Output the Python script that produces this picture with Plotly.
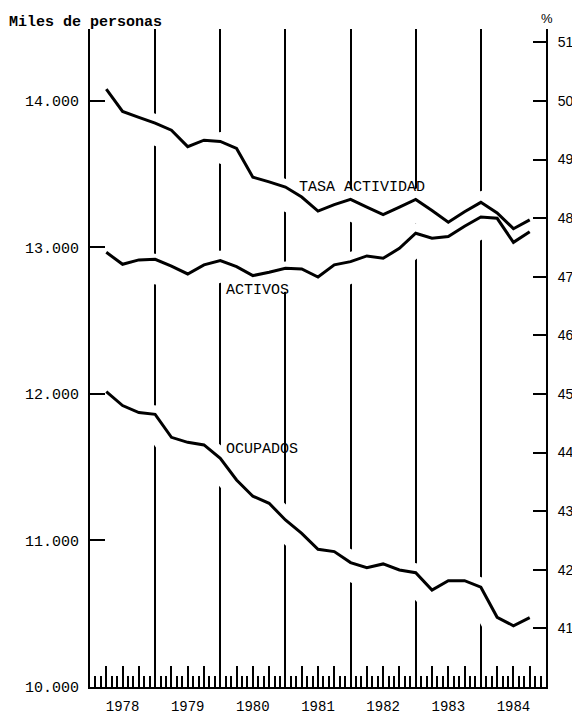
import plotly.graph_objects as go

# ---------------- data ----------------
# quarterly observations, placed at the end of each quarter (1978-I ... 1984-III)
quarters = [1978 + 0.25 * (i + 1) for i in range(27)]

tasa_actividad = [50.20, 49.82, 49.72, 49.62, 49.50, 49.22, 49.33, 49.31, 49.19,
                  48.70, 48.62, 48.53, 48.36, 48.12, 48.23, 48.32, 48.19, 48.06,
                  48.19, 48.32, 48.13, 47.93, 48.11, 48.27, 48.09, 47.82, 47.97]

activos = [12967, 12885, 12915, 12919, 12872, 12819, 12881, 12910, 12869,
           12808, 12831, 12858, 12853, 12798, 12881, 12903, 12942, 12926,
           12994, 13097, 13063, 13074, 13145, 13208, 13199, 13035, 13108]

ocupados = [12016, 11921, 11873, 11861, 11704, 11670, 11652, 11561, 11413,
            11302, 11254, 11140, 11049, 10940, 10924, 10849, 10814, 10840,
            10799, 10780, 10662, 10726, 10726, 10681, 10476, 10418, 10473]

years = [1978, 1979, 1980, 1981, 1982, 1983, 1984]
year_labels = [str(y) for y in years]
left_ticks = [10000, 11000, 12000, 13000, 14000]
left_labels = ["10.000", "11.000", "12.000", "13.000", "14.000"]
right_ticks = [41, 42, 43, 44, 45, 46, 47, 48, 49, 50, 51]

# ---------------- scales ----------------
X_RANGE = [1978, 1985]
LEFT_RANGE = [10000, 14491]
# right axis (%) is linked to the left one: 1000 persons = 2.5 points, 10.000 <-> 40 %
def left_to_pct(v):
    return 40 + (v - 10000) / 400.0
def pct_to_left(p):
    return 10000 + (p - 40) * 400.0
RIGHT_RANGE = [left_to_pct(LEFT_RANGE[0]), left_to_pct(LEFT_RANGE[1])]

PLOT_H = 658  # px height of plotting area
units_per_px = (LEFT_RANGE[1] - LEFT_RANGE[0]) / PLOT_H
halo_shift = 6 * units_per_px  # white halo sits slightly below each curve

MONO = "Liberation Mono, Courier New, monospace"
SANS = "Liberation Sans, Arial, sans-serif"

fig = go.Figure()

# invisible traces so the tick axis (x2) and year-grid axis (x3) get subplots
for xa in ("x2", "x3"):
    fig.add_trace(go.Scatter(x=[X_RANGE[0]], y=[None], mode="lines", hoverinfo="skip",
                             showlegend=False, xaxis=xa, yaxis="y"))

# white halos (interrupt the year lines around the curves)
for vals in ([pct_to_left(p) for p in tasa_actividad], activos, ocupados):
    fig.add_trace(go.Scatter(
        x=quarters, y=[v - halo_shift for v in vals], mode="lines",
        line=dict(color="white", width=30), hoverinfo="skip", showlegend=False,
        xaxis="x", yaxis="y"))

fig.add_trace(go.Scatter(x=quarters, y=activos, mode="lines", name="ACTIVOS",
                         line=dict(color="black", width=3), showlegend=False,
                         xaxis="x", yaxis="y"))
fig.add_trace(go.Scatter(x=quarters, y=ocupados, mode="lines", name="OCUPADOS",
                         line=dict(color="black", width=3), showlegend=False,
                         xaxis="x", yaxis="y"))
fig.add_trace(go.Scatter(x=quarters, y=tasa_actividad, mode="lines", name="TASA ACTIVIDAD",
                         line=dict(color="black", width=3), showlegend=False,
                         xaxis="x", yaxis="y2"))

# quarter ticks (tall), monthly ticks (short), year labels at mid-year
q_vals = [1978 + 0.25 * k for k in range(1, 28)]
m_vals = [1978 + k / 12.0 for k in range(1, 84) if k % 3 != 0]
year_mid = [y + 0.5 for y in years]

fig.update_layout(
    width=572, height=718,
    margin=dict(l=90, r=26, t=29, b=31, autoexpand=False),
    paper_bgcolor="white", plot_bgcolor="white",
    showlegend=False,
    xaxis=dict(
        range=X_RANGE, tickmode="array", tickvals=year_mid, ticktext=year_labels,
        ticks="", showline=True, linewidth=2, linecolor="black", mirror=False,
        showgrid=False, zeroline=False, ticklabelstandoff=5, automargin=False,
        tickfont=dict(family=MONO, size=14, color="black")),
    xaxis2=dict(
        range=X_RANGE, overlaying="x", anchor="y", side="bottom",
        tickmode="array", tickvals=q_vals, showticklabels=False,
        ticks="inside", ticklen=21, tickwidth=2, tickcolor="black",
        minor=dict(tickmode="array", tickvals=m_vals, ticks="inside", ticklen=11,
                   tickwidth=1.5, tickcolor="black", showgrid=False),
        showgrid=False, showline=False, zeroline=False, automargin=False),
    xaxis3=dict(
        range=X_RANGE, overlaying="x", anchor="y", side="bottom",
        tickmode="array", tickvals=years[1:], showticklabels=False, ticks="",
        showgrid=True, gridcolor="black", gridwidth=2, showline=False,
        zeroline=False, automargin=False),
    yaxis=dict(
        range=LEFT_RANGE, tickmode="array", tickvals=left_ticks, ticktext=left_labels,
        ticks="inside", ticklen=15, tickwidth=2, tickcolor="black",
        showline=True, linewidth=2, linecolor="black", showgrid=False, zeroline=False,
        ticklabelstandoff=6, automargin=False,
        tickfont=dict(family=MONO, size=15, color="black")),
    yaxis2=dict(
        range=RIGHT_RANGE, overlaying="y", anchor="x", side="right",
        tickmode="array", tickvals=right_ticks,
        ticks="inside", ticklen=13, tickwidth=2, tickcolor="black",
        showline=True, linewidth=2, linecolor="black", showgrid=False, zeroline=False,
        ticklabelstandoff=7, automargin=False,
        tickfont=dict(family=SANS, size=14, color="black")),
)

annots = [
    dict(text="<b>Miles de personas</b>", xref="paper", yref="paper", x=-0.182, y=1.0106,
         xanchor="left", yanchor="middle", font=dict(family=MONO, size=15)),
    dict(text="%", xref="paper", yref="paper", x=1.002, y=1.0167,
         xanchor="center", yanchor="middle", font=dict(family=SANS, size=13)),
    dict(text="TASA ACTIVIDAD", xref="x", yref="y", x=1981.18, y=13406,
         xanchor="left", yanchor="middle", font=dict(family=MONO, size=15)),
    dict(text="ACTIVOS", xref="x", yref="y", x=1980.06, y=12703,
         xanchor="left", yanchor="middle", font=dict(family=MONO, size=15)),
    dict(text="OCUPADOS", xref="x", yref="y", x=1980.06, y=11618,
         xanchor="left", yanchor="middle", font=dict(family=MONO, size=15)),
]
for a in annots:
    a["showarrow"] = False
    a["font"]["color"] = "black"
    fig.add_annotation(**a)

fig.write_html(
    "out.html",
    config={"displayModeBar": False},
    post_script="document.body.style.margin='0';document.body.style.padding='0';",
)
